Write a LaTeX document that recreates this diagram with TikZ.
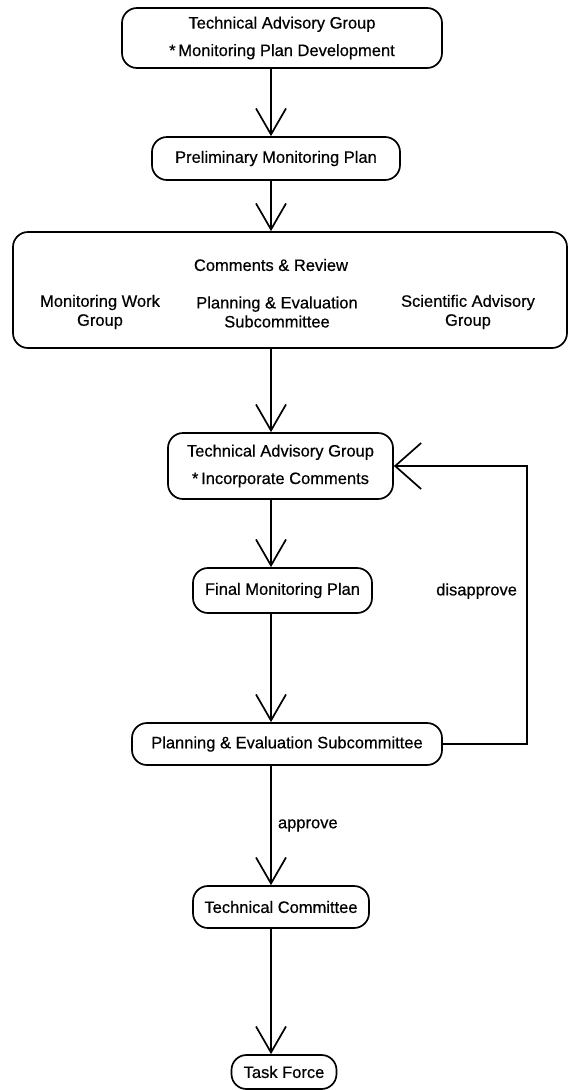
\documentclass[tikz,border=0pt]{standalone}
\usepackage{fontspec}
\setmainfont{Liberation Sans}[UprightFeatures={FakeBold=0.5}]
\usetikzlibrary{arrows.meta}

\begin{document}
\begin{tikzpicture}[
            x=1pt, y=-1pt,
            every node/.append style={black, align=center, font=\fontsize{16.5}{27.5}\selectfont},
            stage/.style={draw, line width=1.7pt, rounded corners=15pt, inner sep=0pt, minimum height=42pt},
            member/.style={font=\fontsize{16.5}{19}\selectfont},
            flow/.style={line width=1.4pt, -{Straight Barb[length=26pt, width=30pt, line width=1.7pt]}},
            back/.style={line width=1.4pt, -{Straight Barb[length=26pt, width=46pt, line width=1.7pt]}}
        ]
            \useasboundingbox (0,0) rectangle (573,1090);
            \coordinate (ax) at (271,0);
            \coordinate (loop) at (527,0);

            \node[stage, minimum width=320pt, minimum height=60pt] (tag) at (282,38)
                {Technical Advisory Group\\*\,Monitoring Plan Development};
            \node[stage, minimum width=248pt, minimum height=43pt] (prelim) at (276,158.5)
                {Preliminary Monitoring Plan};
            \node[stage, minimum width=554pt, minimum height=116pt] (review) at (290,290) {};
            \node (comments) at (271,265) {Comments \& Review};
            \node[member] (mwg) at (100,312) {Monitoring Work\\Group};
            \node[member] (pes) at (277,312) {Planning \& Evaluation\\Subcommittee};
            \node[member] (sag) at (468,312) {Scientific Advisory\\Group};
            \node[stage, minimum width=225pt, minimum height=66pt] (tagic) at (280.5,466)
                {Technical Advisory Group\\*\,Incorporate Comments};
            \node[stage, minimum width=179pt, minimum height=45pt] (final) at (282.5,590.5)
                {Final Monitoring Plan};
            \node[stage, minimum width=310pt] (pesub) at (287,744)
                {Planning \& Evaluation Subcommittee};
            \node[stage, minimum width=176pt] (tc) at (281,907)
                {Technical Committee};
            \node[stage, minimum width=105pt, minimum height=34pt] (tf) at (284,1072)
                {Task Force};

            \draw[flow] (tag.south -| ax) -- (prelim.north -| ax);
            \draw[flow] (prelim.south -| ax) -- (review.north -| ax);
            \draw[flow] (review.south -| ax) -- (tagic.north -| ax);
            \draw[flow] (tagic.south -| ax) -- (final.north -| ax);
            \draw[flow] (final.south -| ax) -- (pesub.north -| ax);
            \draw[flow] (pesub.south -| ax) -- node[right, xshift=3pt]{approve} (tc.north -| ax);
            \draw[flow] (tc.south -| ax) -- (tf.north -| ax);
            \draw[back] (pesub.east) -- (pesub.east -| loop)
                -- node[left, xshift=-6pt, pos=0.55]{disapprove} (tagic.east -| loop)
                -- (tagic.east);
\end{tikzpicture}
\end{document}
